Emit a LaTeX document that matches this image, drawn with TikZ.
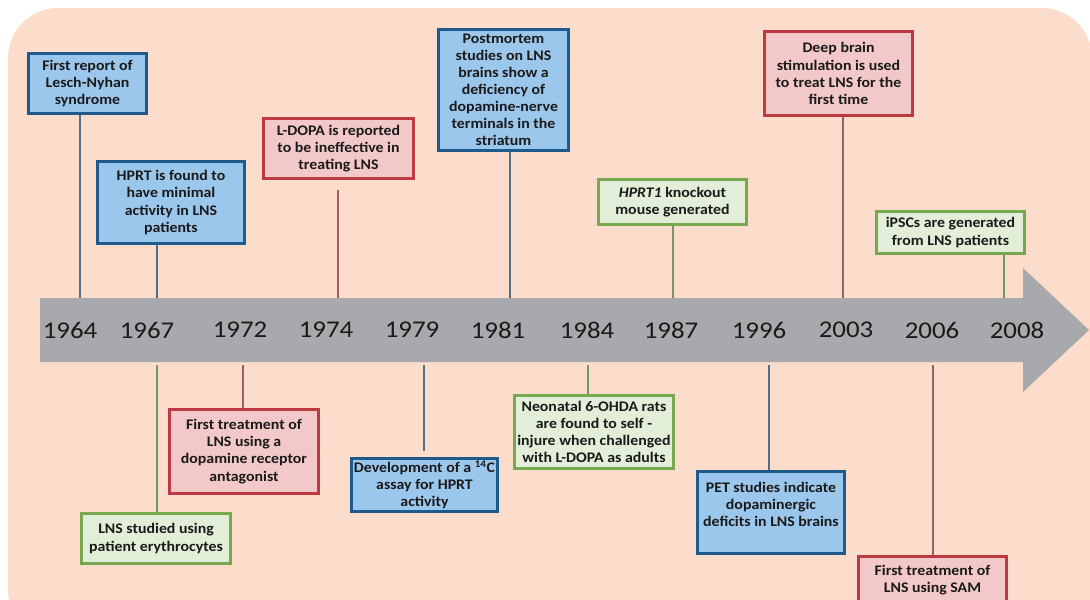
\documentclass[tikz,border=0pt]{standalone}
\usepackage{fontspec}
\setmainfont{Carlito}[FakeStretch=1.12]
\newfontfamily\evfont{Carlito}[FakeStretch=1.08]
\usepackage{tikz}
\usetikzlibrary{positioning,calc}
\definecolor{peach}{HTML}{FCDCCB}
\definecolor{bandC}{HTML}{A7A9AC}
\definecolor{blueE}{HTML}{1F5A8C}
\definecolor{blueF}{HTML}{9CC7EC}
\definecolor{redE}{HTML}{BE3A43}
\definecolor{redF}{HTML}{F3C8C8}
\definecolor{greenE}{HTML}{78A84E}
\definecolor{greenF}{HTML}{E3EED8}
\definecolor{inkC}{HTML}{1A1A1A}
\tikzset{
  evbox/.style={rectangle, draw=#1E, line width=2.4pt, fill=#1F, text=inkC,
                align=center, font=\evfont\bfseries\fontsize{11}{12.8}\selectfont,
                inner xsep=1pt, inner ysep=2pt},
  yr/.style={font=\fontsize{18}{20}\selectfont, text=inkC, inner sep=0pt},
  tick/.style={line width=1.3pt, draw=#1E!45!gray},
}
\begin{document}
\begin{tikzpicture}[x=0.75pt, y=-0.75pt]
        \useasboundingbox (0,0) rectangle (1090,600);
        \fill[peach, rounded corners=37.5pt] (8,8) rectangle (1092,640);
        % timeline band
        \fill[bandC] (40,298) -- (1023,298) -- (1023,268) -- (1089,330)
          -- (1023,392) -- (1023,362) -- (40,362) -- cycle;
        \node[yr] (y64) at (70,330) {1964};
        \node[yr] (y67) at (147,330) {1967};
        \node[yr] (y72) at (240,330) {1972};
        \node[yr] (y74) at (326,330) {1974};
        \node[yr] (y79) at (412,330) {1979};
        \node[yr] (y81) at (498,330) {1981};
        \node[yr] (y84) at (587,330) {1984};
        \node[yr] (y87) at (671,330) {1987};
        \node[yr] (y96) at (759,330) {1996};
        \node[yr] (y03) at (846,330) {2003};
        \node[yr] (y06) at (932,330) {2006};
        \node[yr] (y08) at (1017,330) {2008};
        % events above
        \node[evbox=blue, minimum width=88.75pt, minimum height=45.25pt] (a1) at (87.5,83.5)
          {First report of\\Lesch-Nyhan\\syndrome};
        \node[evbox=blue, minimum width=110.5pt, minimum height=61.75pt] (a2) at (171,202.5)
          {HPRT is found to\\have minimal\\activity in LNS\\patients};
        \node[evbox=red, minimum width=112.75pt, minimum height=45.25pt] (a3) at (338.5,148.5)
          {L-DOPA is reported\\to be ineffective in\\treating LNS};
        \node[evbox=blue, minimum width=97.75pt, minimum height=91pt] (a4) at (503.5,90)
          {Postmortem\\studies on LNS\\brains show a\\deficiency of\\dopamine-nerve\\terminals in the\\striatum};
        \node[evbox=red, minimum width=111.25pt, minimum height=63.25pt] (a5) at (838.5,73.5)
          {Deep brain\\stimulation is used\\to treat LNS for the\\first time};
        \node[evbox=green, minimum width=111.25pt, minimum height=34pt] (a6) at (672.5,202)
          {\textit{HPRT1} knockout\\mouse generated};
        \node[evbox=green, minimum width=111.25pt, minimum height=31.75pt] (a7) at (950.5,232.5)
          {iPSCs are generated\\from LNS patients};
        % events below
        \node[evbox=green, minimum width=112pt, minimum height=37.75pt] (b1) at (156,538.5)
          {LNS studied using\\patient erythrocytes};
        \node[evbox=red, minimum width=112pt, minimum height=63.25pt] (b2) at (244,451.5)
          {First treatment of\\LNS using a\\dopamine receptor\\antagonist};
        \node[evbox=blue, minimum width=109.75pt, minimum height=38.5pt] (b3) at (424.5,485)
          {Development of a \textsuperscript{14}C\\assay for HPRT\\activity};
        \node[evbox=green, minimum width=119.5pt, minimum height=55pt] (b4) at (594,432)
          {Neonatal 6-OHDA rats\\are found to self -\\injure when challenged\\with L-DOPA as adults};
        \node[evbox=blue, minimum width=110.5pt, minimum height=61.75pt] (b5) at (771,512.5)
          {PET studies indicate\\dopaminergic\\deficits in LNS brains\\\mbox{}};
        \node[evbox=red, minimum width=111.25pt, minimum height=35.5pt] (b6) at (932.5,580)
          {First treatment of\\LNS using SAM};
        % ticks
        \coordinate (ka1) at (80,298);   \coordinate (ka2) at (157,298);
        \coordinate (ka3) at (338,298);  \coordinate (ka4) at (510,298);
        \coordinate (ka5) at (843,298);  \coordinate (ka6) at (673,298);
        \coordinate (ka7) at (1004,298);
        \coordinate (kb1) at (157,365);  \coordinate (kb2) at (243,365);
        \coordinate (kb3) at (424,365);  \coordinate (kb4) at (588,365);
        \coordinate (kb5) at (769,365);  \coordinate (kb6) at (933,365);
        \draw[tick=blue] (a1.south -| ka1) -- (ka1);
        \draw[tick=blue] (a2.south -| ka2) -- (ka2);
        \draw[tick=red, shorten <=7.5pt] (a3.south -| ka3) -- (ka3);
        \draw[tick=blue] (a4.south -| ka4) -- (ka4);
        \draw[tick=red] (a5.south -| ka5) -- (ka5);
        \draw[tick=green] (a6.south -| ka6) -- (ka6);
        \draw[tick=green] (a7.south -| ka7) -- (ka7);
        \draw[tick=green] (kb1) -- (b1.north -| kb1);
        \draw[tick=red] (kb2) -- (b2.north -| kb2);
        \draw[tick=blue, shorten >=4.5pt] (kb3) -- (b3.north -| kb3);
        \draw[tick=green] (kb4) -- (b4.north -| kb4);
        \draw[tick=blue] (kb5) -- (b5.north -| kb5);
        \draw[tick=red] (kb6) -- (b6.north -| kb6);
      \end{tikzpicture}
\end{document}
